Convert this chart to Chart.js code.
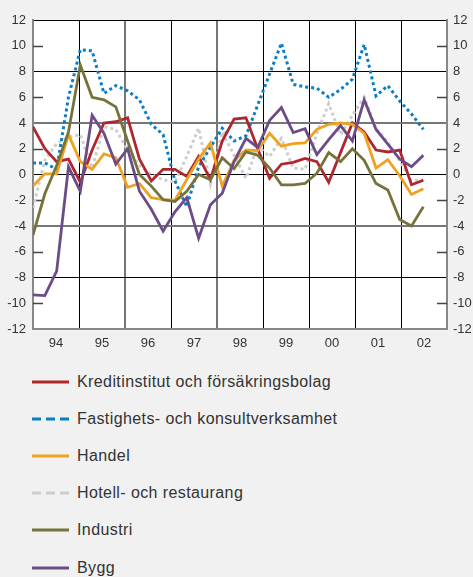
<!DOCTYPE html>
<html>
<head>
<meta charset="utf-8">
<script src="https://cdn.jsdelivr.net/npm/chart.js@4"></script>
<style>
html, body { margin: 0; padding: 0; background: #f0f1f0; }
body { width: 473px; height: 577px; position: relative; overflow: hidden; font-family: "Liberation Sans", Arial, sans-serif; }
#chart { position: absolute; left: 0; top: 0; }
#legend { position: absolute; left: 32px; top: 363px; }
.item { display: flex; align-items: center; height: 37.2px; }
.item svg { margin-right: 8px; }
.item span { font-size: 16px; letter-spacing: 0.4px; color: #333; }
</style>
</head>
<body>
<canvas id="chart" width="473" height="360"></canvas>
<div id="legend"></div>
<script>
// kvartal 1994K1 - 2002K2
const quarters = [
    '94K1', '94K2', '94K3', '94K4', '95K1', '95K2', '95K3', '95K4',
    '96K1', '96K2', '96K3', '96K4', '97K1', '97K2', '97K3', '97K4',
    '98K1', '98K2', '98K3', '98K4', '99K1', '99K2', '99K3', '99K4',
    '00K1', '00K2', '00K3', '00K4', '01K1', '01K2', '01K3', '01K4',
    '02K1', '02K2'
];
const yearLabels = ['94', '95', '96', '97', '98', '99', '00', '01', '02'];
const yTicks = [-12, -10, -8, -6, -4, -2, 0, 2, 4, 6, 8, 10, 12];

const kredit = [3.7, 2.0, 1.0, 1.2, -0.6, 1.9, 4.0, 4.1, 4.4, 1.2,
    -0.5, 0.4, 0.4, -0.15, 1.4, -0.4, 2.6, 4.3, 4.4, 2.0,
    -0.3, 0.8, 0.95, 1.25, 1.0, -0.6, 1.7, 4.0, 3.3, 1.9,
    1.75, 1.9, -0.8, -0.45];
const fastighet = [0.9, 0.9, 0.4, 6.0, 9.7, 9.6, 6.3, 6.9, 6.5, 5.8,
    3.9, 3.1, -0.5, -2.5, 0.6, 2.1, 3.6, 2.6, 3.0, 5.4,
    7.8, 10.2, 7.0, 6.8, 6.7, 6.0, 6.6, 7.4, 10.1, 6.1,
    6.9, 5.7, 4.7, 3.5];
const handel = [-0.9, 0.05, 0.05, 3.1, 1.0, 0.4, 1.6, 1.3, -1.0, -0.7,
    -1.8, -1.95, -2.0, -0.4, 1.2, 2.45, -0.9, 1.1, 1.9, 1.85,
    3.2, 2.2, 2.4, 2.45, 3.5, 3.9, 4.0, 3.9, 3.2, 0.5,
    1.15, -0.1, -1.55, -1.1];
const hotell = [-2.6, 1.1, 2.4, 2.9, 3.1, 0.5, 3.7, 3.5, 1.9, 0.7,
    0.0, -0.4, -0.6, 1.4, 3.6, -0.7, 3.3, 1.5, -0.3, 2.2,
    1.4, 2.8, 0.5, 0.4, 3.2, 5.5, 3.1, 4.6, 6.0, 3.6,
    2.5, 1.1, -0.5, -0.4];
const industri = [-4.7, -1.5, 0.7, 3.3, 8.5, 6.0, 5.8, 5.25, 2.6, 0.0,
    -0.9, -1.95, -2.1, -1.3, 0.0, -0.4, 1.3, 0.45, 1.75, 1.5,
    0.5, -0.8, -0.8, -0.7, 0.1, 1.7, 1.0, 2.0, 1.1, -0.7,
    -1.2, -3.5, -4.0, -2.5];
const bygg = [-9.35, -9.4, -7.5, 0.6, -1.3, 4.6, 3.2, 0.8, 2.0, -1.3,
    -2.7, -4.4, -2.9, -1.8, -4.95, -2.35, -1.45, 1.0, 2.8, 2.1,
    4.2, 5.2, 3.25, 3.55, 1.55, 2.7, 3.8, 2.6, 5.8, 3.5,
    2.36, 1.2, 0.6, 1.5];

const seriesNames = ['Kreditinstitut och försäkringsbolag', 'Fastighets- och konsultverksamhet',
    'Handel', 'Hotell- och restaurang', 'Industri', 'Bygg'];
const seriesValues = [kredit, fastighet, handel, hotell, industri, bygg];
const colors = ['#b0262d', '#0a7dc8', '#eea21f', '#cdcdcd', '#76733a', '#6b4c88'];
const dotted = [false, true, false, true, false, false];
const drawOrder = [3, 4, 2, 5, 1, 0];

// plotytan spanner 35 kvartalssteg, nio år
const xMax = 35;
const yearStep = xMax / yearLabels.length;

const toPoints = vals => vals.map((v, i) => ({ x: i, y: v }));

const datasets = seriesNames.map((name, k) => ({
    label: name,
    data: toPoints(seriesValues[k]),
    borderColor: colors[k],
    backgroundColor: colors[k],
    borderWidth: dotted[k] ? 3 : 2.8,
    borderDash: dotted[k] ? [3, 3] : [],
    pointRadius: 0,
    tension: 0,
    order: drawOrder[k]
}));

const plotBg = {
    id: 'plotBg',
    beforeDraw(chart) {
        const a = chart.chartArea, c = chart.ctx;
        c.save();
        c.fillStyle = '#ffffff';
        c.fillRect(a.left, a.top, a.right - a.left, a.bottom - a.top);
        c.restore();
    }
};

// korta inåtriktade tickmarkeringar vid 2, 6, 10 ...
const innerTicks = {
    id: 'innerTicks',
    beforeDatasetsDraw(chart) {
        const a = chart.chartArea, c = chart.ctx, y = chart.scales.y;
        c.save();
        c.strokeStyle = '#444';
        c.lineWidth = 1.5;
        yTicks.forEach(v => {
            if (v % 4 === 0) return;
            const py = Math.round(y.getPixelForValue(v)) + 0.5;
            c.beginPath();
            c.moveTo(a.left, py); c.lineTo(a.left + 10, py);
            c.moveTo(a.right - 10, py); c.lineTo(a.right, py);
            c.stroke();
        });
        c.restore();
    }
};

const tickFont = { family: 'Liberation Sans', size: 13 };

const yAxis = (pos, width, showGrid) => ({
    type: 'linear',
    position: pos,
    min: -12,
    max: 12,
    afterBuildTicks: s => { s.ticks = yTicks.map(v => ({ value: v })); },
    afterFit: s => { s.width = width; },
    ticks: { color: '#333', font: tickFont, padding: pos === 'left' ? 7 : 6 },
    border: { display: true, color: '#888', width: 2 },
    grid: {
        display: showGrid,
        drawTicks: false,
        color: ctx => {
            const v = ctx.tick ? ctx.tick.value : 0;
            if (v % 4 !== 0) return 'rgba(0,0,0,0)';
            return Math.abs(v) === 4 ? '#777' : '#000';
        },
        lineWidth: ctx => (ctx.tick && Math.abs(ctx.tick.value) === 4) ? 2 : 1
    }
});

new Chart(document.getElementById('chart'), {
    type: 'line',
    data: { datasets: datasets },
    options: {
        responsive: false,
        animation: false,
        devicePixelRatio: 1,
        layout: { padding: { top: 20 } },
        plugins: { legend: { display: false }, tooltip: { enabled: false } },
        scales: {
            x: {
                type: 'linear',
                min: 0,
                max: xMax,
                afterBuildTicks: s => {
                    s.ticks = yearLabels.concat(['']).map((l, j) => ({ value: j * yearStep }));
                },
                afterFit: s => { s.height = 31; },
                ticks: {
                    color: '#333',
                    font: tickFont,
                    padding: 7,
                    autoSkip: false,
                    maxRotation: 0,
                    labelOffset: 23,
                    callback: (v, i) => yearLabels[i] || ''
                },
                border: { display: true, color: '#888', width: 2 },
                grid: {
                    drawTicks: false,
                    color: ctx => (ctx.index === 2 || ctx.index === 4) ? '#777' : '#000',
                    lineWidth: ctx => (ctx.index === 2 || ctx.index === 4) ? 2 : 1
                }
            },
            y: yAxis('left', 33, true),
            y2: yAxis('right', 26, false)
        }
    },
    plugins: [plotBg, innerTicks]
});

// förklaring
const legend = document.getElementById('legend');
seriesNames.forEach((name, k) => {
    const row = document.createElement('div');
    row.className = 'item';
    const dash = dotted[k] ? ' stroke-dasharray="9 5"' : '';
    row.innerHTML = '<svg width="37" height="4"><line x1="0" y1="2" x2="37" y2="2" stroke="' +
        colors[k] + '" stroke-width="3"' + dash + '/></svg><span>' + name + '</span>';
    legend.appendChild(row);
});
</script>
</body>
</html>
